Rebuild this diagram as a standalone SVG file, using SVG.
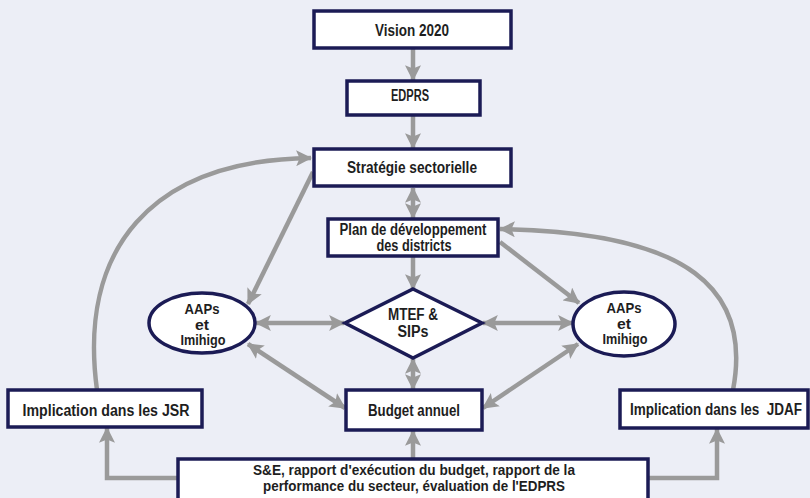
<svg xmlns="http://www.w3.org/2000/svg" width="810" height="498" viewBox="0 0 810 498">
<defs>
<style>
.box{fill:#ffffff;stroke:#1b1b55;stroke-width:3.5}
.t{font-family:"Liberation Sans",Arial,sans-serif;font-weight:bold;font-size:16px;fill:#1e1e1e;text-anchor:middle}
.s{font-size:15px}
.c{fill:none;stroke:#9a9a9a;stroke-width:4.5}
</style>
<marker id="ah" markerUnits="userSpaceOnUse" markerWidth="16" markerHeight="16" refX="13" refY="7" orient="auto-start-reverse" viewBox="0 0 14 14">
<path d="M0,0 L14,7 L0,14 L3,7 Z" fill="#9a9a9a"/>
</marker>
</defs>
<rect x="0" y="0" width="810" height="498" fill="#eceef6"/>

<g id="connectors">
<line class="c" x1="413" y1="48" x2="413" y2="80" marker-end="url(#ah)"/>
<line class="c" x1="413" y1="115" x2="413" y2="148" marker-end="url(#ah)"/>
<line class="c" x1="413" y1="188" x2="413" y2="218" marker-start="url(#ah)" marker-end="url(#ah)"/>
<line class="c" x1="413" y1="257" x2="413" y2="289" marker-end="url(#ah)"/>
<line class="c" x1="413" y1="359" x2="413" y2="389" marker-start="url(#ah)" marker-end="url(#ah)"/>
<line class="c" x1="413" y1="458" x2="413" y2="431" marker-end="url(#ah)"/>
<line class="c" x1="313" y1="172" x2="248" y2="304" marker-end="url(#ah)"/>
<line class="c" x1="500" y1="242" x2="579" y2="303" marker-end="url(#ah)"/>
<line class="c" x1="256" y1="323" x2="344" y2="323" marker-start="url(#ah)" marker-end="url(#ah)"/>
<line class="c" x1="483" y1="323" x2="573" y2="323" marker-start="url(#ah)" marker-end="url(#ah)"/>
<line class="c" x1="248" y1="344" x2="345" y2="408" marker-start="url(#ah)" marker-end="url(#ah)"/>
<line class="c" x1="578" y1="344" x2="483" y2="408" marker-start="url(#ah)" marker-end="url(#ah)"/>
<path class="c" d="M97,390 C78,250 150,160 311,158" marker-end="url(#ah)"/>
<path class="c" d="M733,390 C752,290 690,232 500,229" marker-end="url(#ah)"/>
<path class="c" d="M178,478 L107,478 L107,428" marker-end="url(#ah)"/>
<path class="c" d="M648,478 L717,478 L717,429" marker-end="url(#ah)"/>
</g>

<g id="vision">
<rect class="box" x="314" y="11" width="197" height="37"/>
<text class="t" x="412" y="36" textLength="74" lengthAdjust="spacingAndGlyphs">Vision 2020</text>
</g>
<g id="edprs">
<rect class="box" x="347" y="81" width="133" height="34"/>
<text class="t" x="410" y="101" textLength="38" lengthAdjust="spacingAndGlyphs">EDPRS</text>
</g>
<g id="strategie">
<rect class="box" x="314" y="149" width="197" height="37"/>
<text class="t" x="412" y="173" textLength="130" lengthAdjust="spacingAndGlyphs">Stratégie sectorielle</text>
</g>
<g id="plan">
<rect class="box" x="328" y="219" width="170" height="37"/>
<text class="t" x="413" y="235" textLength="147" lengthAdjust="spacingAndGlyphs">Plan de développement</text>
<text class="t" x="414" y="251" textLength="75" lengthAdjust="spacingAndGlyphs">des districts</text>
</g>
<g id="mtef">
<polygon class="box" points="413,289 482,323 413,358 345,323"/>
<text class="t" x="413" y="320" textLength="50" lengthAdjust="spacingAndGlyphs">MTEF &amp;</text>
<text class="t" x="413" y="337" textLength="31" lengthAdjust="spacingAndGlyphs">SIPs</text>
</g>
<g id="aaps-left">
<ellipse class="box" cx="202" cy="323" rx="53" ry="30"/>
<text class="t s" x="202" y="314" textLength="35" lengthAdjust="spacingAndGlyphs">AAPs</text>
<text class="t s" x="202" y="330" textLength="14" lengthAdjust="spacingAndGlyphs">et</text>
<text class="t s" x="203" y="345" textLength="45" lengthAdjust="spacingAndGlyphs">Imihigo</text>
</g>
<g id="aaps-right">
<ellipse class="box" cx="624" cy="324" rx="51" ry="32"/>
<text class="t s" x="624" y="313" textLength="35" lengthAdjust="spacingAndGlyphs">AAPs</text>
<text class="t s" x="624" y="329" textLength="14" lengthAdjust="spacingAndGlyphs">et</text>
<text class="t s" x="625" y="344" textLength="45" lengthAdjust="spacingAndGlyphs">Imihigo</text>
</g>
<g id="budget">
<rect class="box" x="346" y="390" width="136" height="40"/>
<text class="t" x="414" y="416" textLength="92" lengthAdjust="spacingAndGlyphs">Budget annuel</text>
</g>
<g id="jsr">
<rect class="box" x="8" y="390" width="194" height="37"/>
<text class="t" x="106" y="416" textLength="167" lengthAdjust="spacingAndGlyphs">Implication dans les JSR</text>
</g>
<g id="jdaf">
<rect class="box" x="620" y="390" width="188" height="38"/>
<text class="t" x="716" y="415" xml:space="preserve" textLength="172" lengthAdjust="spacingAndGlyphs">Implication dans les  JDAF</text>
</g>
<g id="se">
<rect class="box" x="178" y="459" width="470" height="45"/>
<text class="t s" x="414" y="475" textLength="322" lengthAdjust="spacingAndGlyphs">S&amp;E, rapport d'exécution du budget, rapport de la</text>
<text class="t s" x="414" y="491" textLength="302" lengthAdjust="spacingAndGlyphs">performance du secteur, évaluation de l'EDPRS</text>
</g>
</svg>
